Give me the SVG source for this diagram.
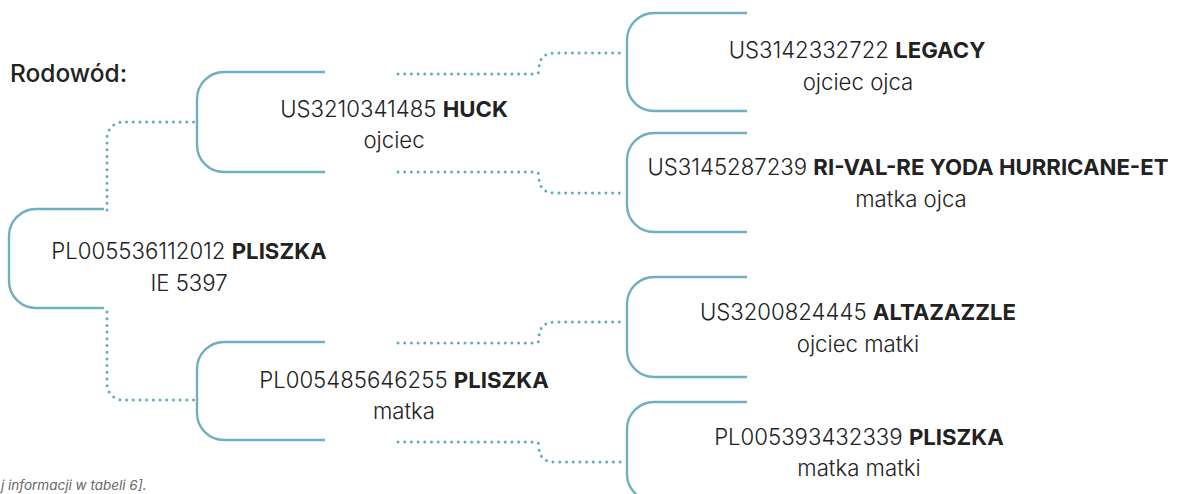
<svg xmlns="http://www.w3.org/2000/svg" width="1180" height="494" viewBox="0 0 1180 494">
<style>
.br{fill:none;stroke:#6fb0bf;stroke-width:2.4}
.dot{fill:none;stroke:#66abbb;stroke-width:3;stroke-linecap:round;stroke-dasharray:0 6.7}
.t{font-family:Inter,"Liberation Sans",sans-serif;font-size:22.2px;fill:#222;text-anchor:middle;font-weight:350}
.b{font-weight:700}
.h{font-family:Inter,"Liberation Sans",sans-serif;font-size:24.5px;font-weight:500;fill:#222}
.note{font-family:Inter,"Liberation Sans",sans-serif;font-size:13.5px;font-style:italic;fill:#666}
</style>
<rect width="1180" height="494" fill="#fff"/>
<text class="h" x="10" y="82">Rodowód:</text>
<g id="connectors">
<path class="dot" d="M107 210 V138 A16 16 0 0 1 123 122 H197"/>
<path class="dot" d="M107 312 V384 A16 16 0 0 0 123 400 H197"/>
<path class="dot" d="M398 74 H536 Q539 74 539 69 Q539 53 555 53 H625"/>
<path class="dot" d="M398 172 H536 Q539 172 539 177 Q539 193 555 193 H625"/>
<path class="dot" d="M398 343 H536 Q539 343 539 338 Q539 322 555 322 H625"/>
<path class="dot" d="M398 442 H536 Q539 442 539 447 Q539 462 555 462 H625"/>
</g>
<g id="root">
<path class="br" d="M104 209 H36 A27 27 0 0 0 9 236 V281 A27 27 0 0 0 36 308 H104"/>
<text class="t" x="189" y="259">PL005536112012 <tspan class="b">PLISZKA</tspan></text>
<text class="t" x="189" y="291">IE 5397</text>
</g>
<g id="ojciec">
<path class="br" d="M325 72 H224 A27 27 0 0 0 197 99 V145 A27 27 0 0 0 224 172 H325"/>
<text class="t" x="394" y="117">US3210341485 <tspan class="b">HUCK</tspan></text>
<text class="t" x="394" y="148">ojciec</text>
</g>
<g id="matka">
<path class="br" d="M325 342 H224 A27 27 0 0 0 197 369 V413 A27 27 0 0 0 224 440 H325"/>
<text class="t" x="404" y="388">PL005485646255 <tspan class="b">PLISZKA</tspan></text>
<text class="t" x="404" y="419">matka</text>
</g>
<g id="ojciec-ojca">
<path class="br" d="M747 13 H654 A27 27 0 0 0 627 40 V84 A27 27 0 0 0 654 111 H747"/>
<text class="t" x="857" y="58">US3142332722 <tspan class="b">LEGACY</tspan></text>
<text class="t" x="858" y="90">ojciec ojca</text>
</g>
<g id="matka-ojca">
<path class="br" d="M747 133 H654 A27 27 0 0 0 627 160 V205 A27 27 0 0 0 654 232 H747"/>
<text class="t" x="908" y="175">US3145287239 <tspan class="b">RI-VAL-RE YODA HURRICANE-ET</tspan></text>
<text class="t" x="911" y="207">matka ojca</text>
</g>
<g id="ojciec-matki">
<path class="br" d="M747 277 H654 A27 27 0 0 0 627 304 V350 A27 27 0 0 0 654 377 H747"/>
<text class="t" x="858" y="320">US3200824445 <tspan class="b">ALTAZAZZLE</tspan></text>
<text class="t" x="858" y="352">ojciec matki</text>
</g>
<g id="matka-matki">
<path class="br" d="M747 402 H654 A27 27 0 0 0 627 429 V474 A27 27 0 0 0 654 501 H747"/>
<text class="t" x="859" y="445">PL005393432339 <tspan class="b">PLISZKA</tspan></text>
<text class="t" x="859" y="476">matka matki</text>
</g>
<text class="note" x="1" y="490">j informacji w tabeli 6].</text>
</svg>
